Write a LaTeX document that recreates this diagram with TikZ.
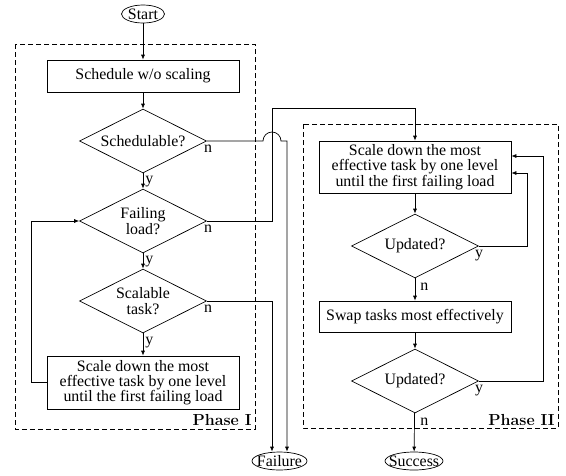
\documentclass[tikz,border=0pt]{standalone}
\usepackage{fontspec}
\newfontfamily\tnr{Liberation Serif}
\usetikzlibrary{shapes.geometric,arrows.meta}
\begin{document}
\begin{tikzpicture}[x=1pt,y=-1pt,
  line width=0.7pt,
  every node/.style={font=\tnr\fontsize{15.9}{15.3}\selectfont},
  box/.style={draw, rectangle, minimum width=192pt, align=center, inner sep=2pt},
  dec/.style={draw, diamond, aspect=2, minimum width=127pt, minimum height=64pt, inner sep=0pt, align=center},
  term/.style={draw, ellipse, inner xsep=-12pt, inner ysep=-4pt, minimum height=18pt},
  flow/.style={-{Latex[length=5pt,width=4pt]}},
  lbl/.style={inner sep=0pt, anchor=north west},
  phasebox/.style={dash pattern=on 5pt off 3pt},
  plabel/.style={font=\fontsize{16}{16}\selectfont\bfseries, inner sep=0pt, anchor=base east}]

\useasboundingbox (0,0) rectangle (566,475);

% Phase frames
\draw[phasebox] (15,44) rectangle (255,429);
\draw[phasebox] (303,124) rectangle (558,428);
\node[plabel] (p1) at (252,425) {Phase I};
\node[plabel] (p2) at (555,425) {Phase II};

% Nodes
\node[term, minimum width=43pt] (start) at (143,14) {Start};
\node[box, minimum height=32pt] (sched) at (143,76) {Schedule w/o scaling};
\node[dec] (q1) at (143,141) {Schedulable?};
\node[dec] (q2) at (143,221) {Failing\\load?};
\node[dec] (q3) at (143,301) {Scalable\\task?};
\node[box, minimum height=53pt] (scale1) at (143,382.5) {Scale down the most\\effective task by one level\\until the first failing load};

\node[box, minimum height=52pt] (scale2) at (415,167) {Scale down the most\\effective task by one level\\until the first failing load};
\node[dec] (u1) at (415,246) {Updated?};
\node[box, minimum height=31pt] (swap) at (415,316.5) {Swap tasks most effectively};
\node[dec] (u2) at (415,381) {Updated?};

\node[term, minimum width=55pt] (fail) at (279.5,461) {Failure};
\node[term, minimum width=58pt] (succ) at (414,461) {Success};

% Phase I connectors
\draw[flow] (start) -- (sched);
\draw[flow] (sched) -- (q1);
\draw[flow] (q1.south) -- (q2.north);
\draw[flow] (q2.south) -- (q3.north);
\draw[flow] (q3.south) -- (scale1.north);
\draw[flow] (scale1.west) -- (31,382.5) |- (q2.west);

\node[lbl] at ([xshift=2pt,yshift=-2pt]q1.south) {y};
\node[lbl] at ([xshift=2pt,yshift=-2pt]q2.south) {y};
\node[lbl] at ([xshift=2pt,yshift=-3pt]q3.south) {y};
\node[lbl] at ([xshift=-3pt,yshift=-4pt]q1.east) {n};
\node[lbl] at ([xshift=-3pt,yshift=-4pt]q2.east) {n};
\node[lbl] at ([xshift=-3pt,yshift=-4pt]q3.east) {n};

% Exits from Phase I
\draw[flow] (q1.east) -- (263,141) arc[start angle=180, end angle=360, radius=9] -- (287,141) -- ([xshift=7.5pt]fail.north);
\draw[flow] (q2.east) -| (272,108) -| (scale2.north);
\draw[flow] (q3.east) -| ([xshift=-7.5pt]fail.north);

% Phase II connectors
\draw[flow] (scale2) -- (u1);
\draw[flow] (u1) -- (swap);
\draw[flow] (swap) -- (u2);
\draw[flow] (u2) -- (succ);
\draw[flow] (u1.east) -- (527,246) |- ([yshift=-6pt]scale2.east);
\draw[flow] (u2.east) -- (543,381) |- ([yshift=11pt]scale2.east);

\node[lbl] at ([xshift=-4pt,yshift=-4pt]u1.east) {y};
\node[lbl] at ([xshift=-4pt,yshift=-4pt]u2.east) {y};
\node[lbl] at ([xshift=5pt,yshift=-4pt]u1.south) {n};
\node[lbl] at ([xshift=5pt,yshift=-4pt]u2.south) {n};
\end{tikzpicture}
\end{document}
